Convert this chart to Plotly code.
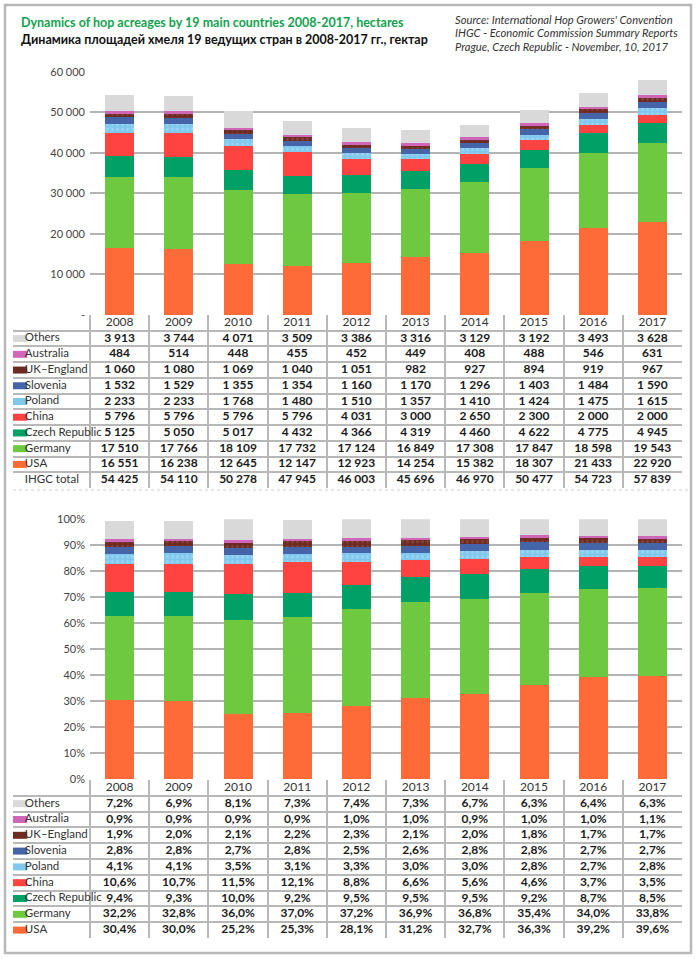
import plotly.graph_objects as go

W, H = 700, 959

years = ["2008", "2009", "2010", "2011", "2012", "2013", "2014", "2015", "2016", "2017"]

# stacking order, bottom to top
names = ["USA", "Germany", "Czech Republic", "China", "Poland", "Slovenia",
         "UK–England", "Australia", "Others"]
colors = ["#FF6B38", "#6EC840", "#00A066", "#FF4340", "#80C8EE", "#4565A8",
          "#6E2B22", "#D066B8", "#D9D9D9"]

# hectares
usa = [16551, 16238, 12645, 12147, 12923, 14254, 15382, 18307, 21433, 22920]
germany = [17510, 17766, 18109, 17732, 17124, 16849, 17308, 17847, 18598, 19543]
czech = [5125, 5050, 5017, 4432, 4366, 4319, 4460, 4622, 4775, 4945]
china = [5796, 5796, 5796, 5796, 4031, 3000, 2650, 2300, 2000, 2000]
poland = [2233, 2233, 1768, 1480, 1510, 1357, 1410, 1424, 1475, 1615]
slovenia = [1532, 1529, 1355, 1354, 1160, 1170, 1296, 1403, 1484, 1590]
uk = [1060, 1080, 1069, 1040, 1051, 982, 927, 894, 919, 967]
australia = [484, 514, 448, 455, 452, 449, 408, 488, 546, 631]
others = [3913, 3744, 4071, 3509, 3386, 3316, 3129, 3192, 3493, 3628]
total = [54425, 54110, 50278, 47945, 46003, 45696, 46970, 50477, 54723, 57839]

# shares, %
usa_p = [30.4, 30.0, 25.2, 25.3, 28.1, 31.2, 32.7, 36.3, 39.2, 39.6]
germany_p = [32.2, 32.8, 36.0, 37.0, 37.2, 36.9, 36.8, 35.4, 34.0, 33.8]
czech_p = [9.4, 9.3, 10.0, 9.2, 9.5, 9.5, 9.5, 9.2, 8.7, 8.5]
china_p = [10.6, 10.7, 11.5, 12.1, 8.8, 6.6, 5.6, 4.6, 3.7, 3.5]
poland_p = [4.1, 4.1, 3.5, 3.1, 3.3, 3.0, 3.0, 2.8, 2.7, 2.8]
slovenia_p = [2.8, 2.8, 2.7, 2.8, 2.5, 2.6, 2.8, 2.8, 2.7, 2.7]
uk_p = [1.9, 2.0, 2.1, 2.2, 2.3, 2.1, 2.0, 1.8, 1.7, 1.7]
australia_p = [0.9, 0.9, 0.9, 0.9, 1.0, 1.0, 0.9, 1.0, 1.0, 1.1]
others_p = [7.2, 6.9, 8.1, 7.3, 7.4, 7.3, 6.7, 6.3, 6.4, 6.3]

abs_series = [usa, germany, czech, china, poland, slovenia, uk, australia, others]
pct_series = [usa_p, germany_p, czech_p, china_p, poland_p, slovenia_p, uk_p, australia_p, others_p]

top_ticks = [0, 10000, 20000, 30000, 40000, 50000, 60000]
top_ticktext = ["-", "10 000", "20 000", "30 000", "40 000", "50 000", "60 000"]
bot_ticks = [0, 10, 20, 30, 40, 50, 60, 70, 80, 90, 100]
bot_ticktext = [f"{t}%" for t in bot_ticks]

source_lines = ["Source: International Hop Growers' Convention",
                "IHGC - Economic Commission Summary Reports",
                "Prague, Czech Republic - November, 10, 2017"]

FONT = "Lato"
GRID = "#B4B4B4"
LINE = "#B8B8B8"


def px_x(p):
    return p / W


def px_y(p):
    return 1 - p / H


def fmt_num(v):
    return f"{v:,}".replace(",", " ")


def fmt_pct(v):
    return f"{v:.1f}%".replace(".", ",")


patterns = {"Poland": dict(shape=".", fgcolor="#B9E2F8", size=5, solidity=0.25, fillmode="overlay"),
            "UK–England": dict(shape=".", fgcolor="#9A5A4E", size=5, solidity=0.25, fillmode="overlay")}

fig = go.Figure()

for name, col, vals, pvals in zip(names, colors, abs_series, pct_series):
    pat = patterns.get(name)
    mk = dict(color=col, line=dict(width=0))
    if pat:
        mk["pattern"] = pat
    fig.add_trace(go.Bar(x=years, y=vals, name=name, marker=mk,
                         xaxis="x", yaxis="y", showlegend=False, hoverinfo="skip"))
    fig.add_trace(go.Bar(x=years, y=pvals, name=name, marker=dict(mk),
                         xaxis="x2", yaxis="y2", showlegend=False, hoverinfo="skip"))

# ---- tables drawn on their own numeric axes ----
row_idx = list(range(len(names)))[::-1]          # Others ... USA (table order)
LABEL_W = 77 / 59.2                              # label column width, in column units
X_LEFT = -0.5 - LABEL_W


def add_table(series, fmt, with_total, xa, ya):
    row_names = [names[i] for i in row_idx]
    row_cols = [colors[i] for i in row_idx]
    rows = [[fmt(series[i][k]) for k in range(len(years))] for i in row_idx]
    if with_total:
        row_names.append("IHGC total")
        row_cols.append("rgba(0,0,0,0)")
        rows.append([fmt(v) for v in total])
    # header
    fig.add_trace(go.Scatter(x=list(range(len(years))), y=[-1] * len(years), text=years,
                             mode="text", textposition="middle center",
                             textfont=dict(family=FONT, size=12, color="#333"),
                             xaxis=xa, yaxis=ya, showlegend=False, hoverinfo="skip"))
    # cells
    xs, ys, ts = [], [], []
    for r, vals in enumerate(rows):
        for k, t in enumerate(vals):
            xs.append(k)
            ys.append(r)
            ts.append(t)
    fig.add_trace(go.Scatter(x=xs, y=ys, text=ts, mode="text", textposition="middle center",
                             textfont=dict(family=FONT, size=12, color="#1a1a1a", weight="bold"),
                             xaxis=xa, yaxis=ya, showlegend=False, hoverinfo="skip"))
    # swatches
    fig.add_trace(go.Scatter(x=[X_LEFT + 0.11] * len(row_names), y=list(range(len(row_names))),
                             mode="markers",
                             marker=dict(symbol="line-ew", size=11,
                                         line=dict(color=row_cols, width=7)),
                             xaxis=xa, yaxis=ya, showlegend=False, hoverinfo="skip"))
    # row labels
    fig.add_trace(go.Scatter(x=[X_LEFT + 0.2] * len(row_names), y=list(range(len(row_names))),
                             text=row_names, mode="text", textposition="middle right",
                             textfont=dict(family=FONT, size=11.5, color="#333"),
                             xaxis=xa, yaxis=ya, showlegend=False, hoverinfo="skip"))
    return len(row_names)


n_top = add_table(abs_series, fmt_num, True, "x3", "y3")
n_bot = add_table(pct_series, fmt_pct, False, "x4", "y4")

axis_common = dict(showticklabels=False, showgrid=False, zeroline=False, automargin=False,
                   showline=False, ticks="", fixedrange=True)
yaxis_common = dict(showgrid=True, gridcolor=GRID, gridwidth=2, zeroline=False, automargin=False,
                    showline=False, ticks="", ticklabelstandoff=4, fixedrange=True,
                    tickfont=dict(family=FONT, size=11, color="#444"))


def table_x(anchor):
    return dict(domain=[px_x(13), px_x(682)], range=[X_LEFT, len(years) - 0.5], anchor=anchor,
                tickvals=[k - 0.5 for k in range(len(years) + 1)], showticklabels=False,
                showgrid=True, gridcolor=LINE, gridwidth=2, zeroline=False, showline=False,
                ticks="", fixedrange=True, automargin=False)


def table_y(anchor, n, top_px, bot_px):
    return dict(domain=[px_y(bot_px), px_y(top_px)], range=[n - 0.5, -1.5], anchor=anchor,
                tickvals=[r - 0.5 for r in range(n + 1)], showticklabels=False,
                showgrid=True, gridcolor=LINE, gridwidth=2, zeroline=False, showline=False,
                ticks="", fixedrange=True, automargin=False)


annotations = [
    dict(text="Dynamics of hop acreages by 19 main countries 2008-2017, hectares",
         xref="paper", yref="paper", x=px_x(19), y=px_y(23), xanchor="left", yanchor="middle",
         showarrow=False, font=dict(family=FONT, size=12.5, color="#11A24E", weight="bold")),
    dict(text="Динамика площадей хмеля 19 ведущих стран в 2008-2017 гг., гектар",
         xref="paper", yref="paper", x=px_x(19), y=px_y(40), xanchor="left", yanchor="middle",
         showarrow=False, font=dict(family=FONT, size=12.5, color="#111", weight="bold")),
]
for i, line in enumerate(source_lines):
    annotations.append(dict(text=f"<i>{line}</i>", xref="paper", yref="paper",
                            x=px_x(453), y=px_y(19.5 + 13.5 * i), xanchor="left", yanchor="middle",
                            showarrow=False, font=dict(family=FONT, size=11.2, color="#333")))

fig.update_layout(
    width=W, height=H, autosize=False,
    margin=dict(l=0, r=0, t=0, b=0, pad=0),
    paper_bgcolor="white", plot_bgcolor="rgba(0,0,0,0)",
    barmode="stack", bargap=0.51,
    font=dict(family=FONT),
    xaxis=dict(domain=[px_x(90), px_x(682)], anchor="y", **axis_common),
    yaxis=dict(domain=[px_y(315), px_y(71.7)], range=[0, 60000],
               tickvals=top_ticks, ticktext=top_ticktext, anchor="x", **yaxis_common),
    xaxis2=dict(domain=[px_x(90), px_x(682)], anchor="y2", **axis_common),
    yaxis2=dict(domain=[px_y(779), px_y(519.3)], range=[0, 100],
                tickvals=bot_ticks, ticktext=bot_ticktext, anchor="x2", **yaxis_common),
    xaxis3=table_x("y3"),
    yaxis3=table_y("x3", n_top, 315, 488),
    xaxis4=table_x("y4"),
    yaxis4=table_y("x4", n_bot, 780, 938),
    shapes=[
        dict(type="rect", xref="paper", yref="paper",
             x0=px_x(5), x1=px_x(691), y0=px_y(953), y1=px_y(5),
             line=dict(color="#B8B8B8", width=2.5), fillcolor="rgba(0,0,0,0)", layer="above"),
        dict(type="line", xref="paper", yref="paper",
             x0=px_x(13), x1=px_x(688), y0=px_y(490), y1=px_y(490),
             line=dict(color="#CFCFCF", width=1, dash="dot")),
    ],
    annotations=annotations,
)

fig.write_html("out.html", config={"displayModeBar": False},
               post_script="document.body.style.margin='0';document.body.style.overflow='hidden';")
